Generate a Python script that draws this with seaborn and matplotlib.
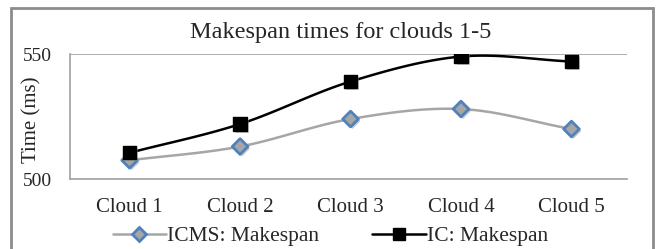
import numpy as np
import pandas as pd
import seaborn as sns
import matplotlib.pyplot as plt
import matplotlib.patheffects as pe
from matplotlib.patches import Rectangle

# data
clouds = ["Cloud 1", "Cloud 2", "Cloud 3", "Cloud 4", "Cloud 5"]
icms_makespan = [507.5, 513, 524, 528, 520]
ic_makespan = [510.5, 522, 539, 549, 547]

df = pd.DataFrame({
    "cloud": clouds * 2,
    "pos": list(range(len(clouds))) * 2,
    "time": icms_makespan + ic_makespan,
    "series": ["ICMS: Makespan"] * len(clouds) + ["IC: Makespan"] * len(clouds),
})

sns.set_style("white")
plt.rcParams["font.family"] = ["Liberation Serif", "DejaVu Serif"]


def smooth(y, n=30):
    # Catmull-Rom style smoothing like Excel's "smoothed line"
    y = np.asarray(y, dtype=float)
    x = np.arange(len(y), dtype=float)
    pts = np.column_stack([x, y])
    p = np.vstack([pts[0] - (pts[1] - pts[0]), pts, pts[-1] + (pts[-1] - pts[-2])])
    out = []
    for i in range(1, len(p) - 2):
        p0, p1, p2, p3 = p[i - 1], p[i], p[i + 1], p[i + 2]
        t = np.linspace(0, 1, n)[:, None]
        c1 = p1 + (p2 - p0) / 6
        c2 = p2 - (p3 - p1) / 6
        seg = ((1 - t) ** 3) * p1 + 3 * ((1 - t) ** 2) * t * c1 + 3 * (1 - t) * t ** 2 * c2 + t ** 3 * p2
        out.append(seg)
    out = np.vstack(out)
    return out[:, 0], out[:, 1]


fig = plt.figure(figsize=(6.62, 2.49), dpi=100)
ax = fig.add_axes([0.1057, 0.281, 0.841, 0.502])

styles = {
    "ICMS: Makespan": dict(color="#a6a6a6", marker="D", mfc="#a6a6a6", mec="#4f81bd", ms=8, mew=2, lw=1.8),
    "IC: Makespan": dict(color="black", marker="s", mfc="black", mec="black", ms=9.5, mew=1, lw=1.8),
}

shadow = [pe.SimplePatchShadow(offset=(1.5, -1.5), shadow_rgbFace="#999999", alpha=0.5), pe.Normal()]

for name, st in styles.items():
    sub = df[df["series"] == name]
    sx, sy = smooth(sub["time"].values)
    ax.plot(sx, sy, color=st["color"], lw=st["lw"], zorder=2)
    sns.scatterplot(data=sub, x="pos", y="time", ax=ax, marker=st["marker"],
                    s=st["ms"] ** 2, color=st["mfc"], edgecolor=st["mec"],
                    linewidth=st["mew"], zorder=3, legend=False,
                    path_effects=shadow)

ax.set_xlim(-0.54, 4.5)
ax.set_ylim(500, 550)
ax.set_yticks([500, 550])
ax.set_xticks(range(len(clouds)))
ax.set_xticklabels(clouds, fontsize=15)
ax.set_xticks(np.arange(-0.5, len(clouds), 1.0), minor=True)
ax.tick_params(axis="x", which="major", length=0, pad=14)
ax.tick_params(axis="x", which="minor", length=5, color="#a0a0a0", width=1, direction="out")
ax.tick_params(axis="y", length=5, color="#a0a0a0", width=1, labelsize=14, pad=8, direction="out")
ax.axhline(550, color="#a0a0a0", lw=1.2, zorder=1)
for s in ["top", "right"]:
    ax.spines[s].set_visible(False)
for s in ["left", "bottom"]:
    ax.spines[s].set_color("#a0a0a0")
    ax.spines[s].set_linewidth(1.2)
ax.set_xlabel("")
ax.set_ylabel("")

fig.text(0.048, 0.52, "Time (ms)", rotation=90, ha="center", va="center", fontsize=15)
fig.text(0.514, 0.847, "Makespan times for clouds 1-5", ha="center", va="baseline", fontsize=17.5)

# legend
handles = [plt.Line2D([], [], color=st["color"], lw=st["lw"], marker=st["marker"],
                      mfc=st["mfc"], mec=st["mec"], ms=st["ms"] * 0.85, mew=st["mew"])
           for st in styles.values()]
fig.legend(handles, list(styles.keys()), loc="center", bbox_to_anchor=(0.499, 0.052),
           ncol=2, frameon=False, fontsize=15.5, handlelength=2.5, handletextpad=0.05,
           columnspacing=2.45, borderaxespad=0)

# chart frame
fig.patches.append(Rectangle((0.017, -0.05), 0.969, 1.018, transform=fig.transFigure,
                             fill=False, edgecolor="#8c8c8c", lw=2))

fig.savefig("out.png", dpi=100)
